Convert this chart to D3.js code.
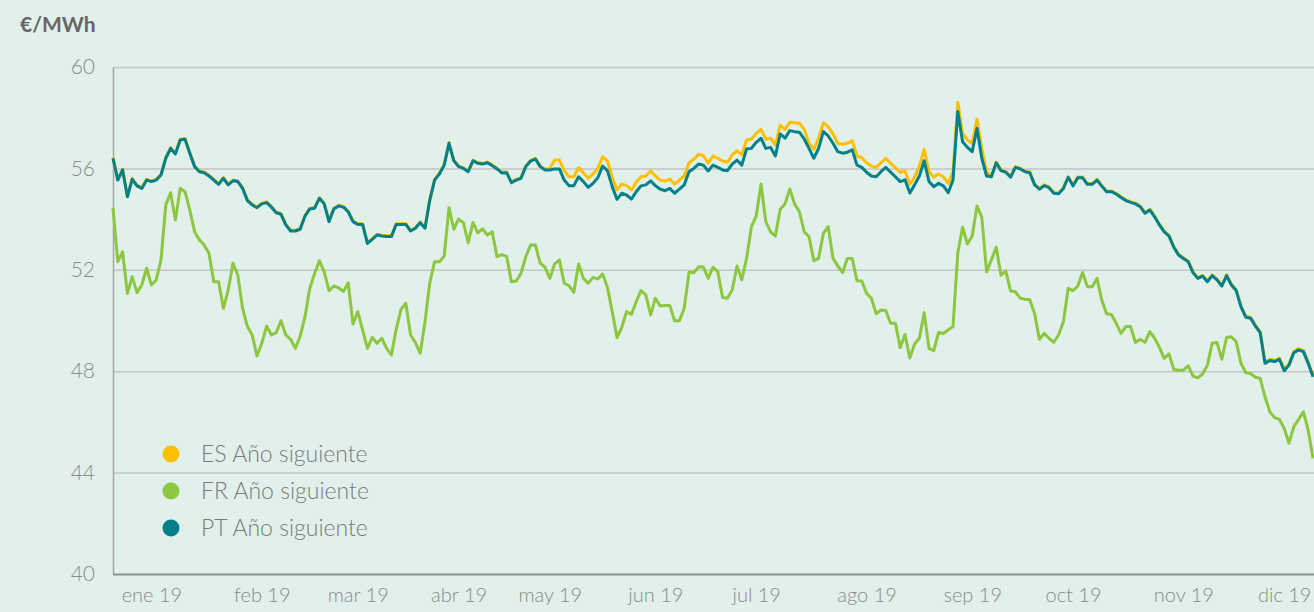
<!DOCTYPE html>
<html lang="es">
<head>
<meta charset="utf-8">
<title>Futuros de electricidad – Año siguiente</title>
<script src="https://cdn.jsdelivr.net/npm/d3@7/dist/d3.min.js"></script>
<style>
  html, body { margin: 0; padding: 0; background: #e1f0ea; }
  svg { display: block; font-family: Lato, "Open Sans", sans-serif; }
</style>
</head>
<body>
<svg id="chart" width="1314" height="612"></svg>
<script>
// Month labels and the trading-day index where each month begins
const monthLabels = ["ene 19", "feb 19", "mar 19", "abr 19", "may 19", "jun 19",
                     "jul 19", "ago 19", "sep 19", "oct 19", "nov 19", "dic 19"];
const monthStarts = [8, 31, 51, 72, 91, 113, 134, 157, 179, 200, 223, 244];

const yTicks = [40, 44, 48, 52, 56, 60];

// Daily settlement prices, €/MWh (one value per trading day)
const esValues = [
  56.43, 55.57, 55.97, 54.91, 55.60, 55.34, 55.24, 55.57, 55.51, 55.57,
  55.77, 56.43, 56.82, 56.60, 57.15, 57.18, 56.63, 56.10, 55.90, 55.86,
  55.73, 55.57, 55.40, 55.64, 55.38, 55.54, 55.51, 55.24, 54.76, 54.59,
  54.48, 54.63, 54.68, 54.50, 54.28, 54.22, 53.80, 53.56, 53.56, 53.63,
  54.15, 54.43, 54.46, 54.85, 54.63, 53.93, 54.43, 54.55, 54.50, 54.32,
  53.93, 53.82, 53.82, 53.07, 53.23, 53.40, 53.36, 53.34, 53.34, 53.82,
  53.82, 53.82, 53.56, 53.67, 53.89, 53.67, 54.78, 55.57, 55.81, 56.16,
  57.02, 56.33, 56.10, 56.03, 55.90, 56.33, 56.23, 56.20, 56.25, 56.14,
  56.01, 55.85, 55.86, 55.47, 55.57, 55.64, 56.10, 56.32, 56.40, 56.10,
  55.97, 56.00, 56.33, 56.33, 55.91, 55.67, 55.67, 56.03, 55.83, 55.61,
  55.78, 56.00, 56.46, 56.30, 55.65, 55.15, 55.38, 55.32, 55.15, 55.45,
  55.67, 55.70, 55.90, 55.70, 55.54, 55.50, 55.58, 55.38, 55.54, 55.70,
  56.22, 56.36, 56.56, 56.50, 56.21, 56.49, 56.40, 56.29, 56.24, 56.53,
  56.69, 56.53, 57.12, 57.15, 57.38, 57.54, 57.15, 57.19, 56.92, 57.71,
  57.54, 57.82, 57.80, 57.78, 57.54, 57.00, 56.75, 57.19, 57.80, 57.65,
  57.36, 56.99, 56.95, 56.99, 57.09, 56.49, 56.42, 56.22, 56.09, 56.04,
  56.22, 56.40, 56.20, 56.03, 55.84, 55.90, 55.38, 55.65, 56.09, 56.75,
  55.87, 55.65, 55.78, 55.67, 55.41, 55.87, 58.61, 57.38, 57.12, 56.99,
  57.94, 56.79, 55.87, 55.70, 56.25, 55.94, 55.88, 55.68, 56.07, 56.01,
  55.90, 55.86, 55.38, 55.21, 55.35, 55.27, 55.05, 55.03, 55.24, 55.68,
  55.34, 55.66, 55.66, 55.40, 55.40, 55.57, 55.33, 55.11, 55.11, 55.02,
  54.88, 54.76, 54.69, 54.63, 54.52, 54.26, 54.39, 54.12, 53.80, 53.53,
  53.36, 52.92, 52.61, 52.48, 52.35, 51.92, 51.69, 51.78, 51.56, 51.80,
  51.63, 51.39, 51.80, 51.43, 51.21, 50.57, 50.17, 50.13, 49.82, 49.56,
  48.36, 48.47, 48.43, 48.52, 48.07, 48.29, 48.78, 48.89, 48.82, 48.36, 47.83
];

const frValues = [
  54.43, 52.32, 52.71, 51.07, 51.73, 51.10, 51.40, 52.06, 51.40, 51.60,
  52.39, 54.56, 55.04, 53.96, 55.21, 55.08, 54.36, 53.50, 53.18, 52.98,
  52.65, 51.53, 51.53, 50.48, 51.20, 52.26, 51.79, 50.48, 49.76, 49.43,
  48.60, 49.10, 49.78, 49.43, 49.52, 49.99, 49.43, 49.26, 48.90, 49.38,
  50.15, 51.27, 51.85, 52.36, 51.92, 51.18, 51.36, 51.29, 51.14, 51.49,
  49.86, 50.35, 49.63, 48.90, 49.33, 49.10, 49.30, 48.90, 48.64, 49.65,
  50.44, 50.68, 49.43, 49.13, 48.71, 49.95, 51.49, 52.32, 52.32, 52.54,
  54.45, 53.60, 54.00, 53.86, 53.07, 53.86, 53.46, 53.61, 53.37, 53.50,
  52.52, 52.60, 52.53, 51.53, 51.56, 51.86, 52.52, 52.98, 52.98, 52.26,
  52.10, 51.66, 52.23, 52.39, 51.47, 51.37, 51.11, 52.23, 51.66, 51.47,
  51.70, 51.64, 51.83, 51.31, 50.35, 49.33, 49.73, 50.35, 50.24, 50.74,
  51.18, 51.01, 50.22, 50.88, 50.57, 50.59, 50.59, 49.99, 49.99, 50.48,
  51.90, 51.88, 52.12, 52.11, 51.66, 52.10, 51.92, 50.91, 50.88, 51.20,
  52.15, 51.60, 52.45, 53.70, 54.12, 55.38, 53.90, 53.50, 53.33, 54.39,
  54.60, 55.19, 54.60, 54.29, 53.50, 53.31, 52.36, 52.45, 53.44, 53.70,
  52.45, 52.15, 51.89, 52.45, 52.45, 51.57, 51.56, 51.07, 50.88, 50.26,
  50.41, 50.39, 49.89, 49.89, 48.93, 49.45, 48.52, 49.07, 49.30, 50.31,
  48.90, 48.81, 49.53, 49.49, 49.63, 49.76, 52.67, 53.68, 53.02, 53.33,
  54.52, 54.07, 51.92, 52.39, 52.89, 51.79, 51.95, 51.16, 51.13, 50.88,
  50.84, 50.82, 50.28, 49.26, 49.49, 49.30, 49.14, 49.43, 49.95, 51.27,
  51.18, 51.36, 51.89, 51.33, 51.33, 51.66, 50.80, 50.27, 50.24, 49.89,
  49.49, 49.76, 49.76, 49.13, 49.26, 49.14, 49.56, 49.30, 48.94, 48.51,
  48.68, 48.07, 48.04, 48.04, 48.21, 47.81, 47.74, 47.89, 48.24, 49.10,
  49.13, 48.47, 49.33, 49.36, 49.16, 48.31, 47.94, 47.91, 47.76, 47.72,
  46.99, 46.40, 46.17, 46.10, 45.75, 45.16, 45.81, 46.10, 46.40, 45.68, 44.56
];

const ptValues = [
  56.40, 55.54, 55.94, 54.88, 55.57, 55.31, 55.21, 55.54, 55.48, 55.54,
  55.74, 56.40, 56.79, 56.57, 57.12, 57.15, 56.60, 56.07, 55.87, 55.83,
  55.70, 55.54, 55.37, 55.61, 55.35, 55.51, 55.48, 55.21, 54.73, 54.56,
  54.45, 54.60, 54.65, 54.47, 54.25, 54.19, 53.77, 53.53, 53.53, 53.60,
  54.12, 54.40, 54.43, 54.82, 54.60, 53.90, 54.40, 54.52, 54.47, 54.29,
  53.90, 53.79, 53.79, 53.04, 53.20, 53.37, 53.33, 53.31, 53.31, 53.79,
  53.79, 53.79, 53.53, 53.64, 53.86, 53.64, 54.75, 55.54, 55.78, 56.13,
  56.99, 56.30, 56.07, 56.00, 55.87, 56.30, 56.20, 56.17, 56.22, 56.11,
  55.98, 55.82, 55.83, 55.44, 55.54, 55.61, 56.07, 56.29, 56.37, 56.07,
  55.94, 55.94, 55.98, 55.98, 55.54, 55.32, 55.32, 55.67, 55.48, 55.25,
  55.41, 55.63, 56.09, 55.91, 55.28, 54.78, 55.02, 54.95, 54.79, 55.08,
  55.31, 55.35, 55.51, 55.32, 55.18, 55.12, 55.21, 55.02, 55.18, 55.35,
  55.87, 56.00, 56.17, 56.13, 55.90, 56.13, 56.04, 55.94, 55.91, 56.17,
  56.33, 56.13, 56.77, 56.79, 57.03, 57.19, 56.79, 56.83, 56.49, 57.36,
  57.19, 57.49, 57.45, 57.43, 57.16, 56.79, 56.40, 56.79, 57.45, 57.28,
  56.99, 56.66, 56.60, 56.64, 56.73, 56.13, 56.04, 55.85, 55.70, 55.67,
  55.87, 56.04, 55.85, 55.67, 55.48, 55.55, 55.03, 55.35, 55.70, 56.30,
  55.48, 55.28, 55.41, 55.31, 55.04, 55.54, 58.24, 57.05, 56.83, 56.66,
  57.58, 56.40, 55.70, 55.67, 56.22, 55.91, 55.85, 55.65, 56.04, 55.98,
  55.87, 55.83, 55.35, 55.18, 55.32, 55.24, 55.02, 55.00, 55.21, 55.65,
  55.31, 55.63, 55.63, 55.37, 55.37, 55.54, 55.30, 55.08, 55.08, 54.99,
  54.85, 54.73, 54.66, 54.60, 54.49, 54.23, 54.36, 54.09, 53.77, 53.50,
  53.33, 52.89, 52.58, 52.45, 52.32, 51.89, 51.66, 51.75, 51.53, 51.77,
  51.60, 51.36, 51.77, 51.40, 51.18, 50.54, 50.13, 50.09, 49.78, 49.52,
  48.31, 48.42, 48.38, 48.47, 48.02, 48.24, 48.73, 48.84, 48.77, 48.31, 47.78
];

const seriesNames = ["ES Año siguiente", "FR Año siguiente", "PT Año siguiente"];
const seriesColors = ["#fcc000", "#8dc63f", "#00818a"];
const seriesData = [esValues, frValues, ptValues];

// ---- layout ----
const svg = d3.select("#chart");
const W = 1314, H = 612;
const m = { top: 67, right: 1, bottom: 38, left: 113 };

const x = d3.scaleLinear()
  .domain([0, ptValues.length - 1])
  .range([m.left, W - m.right]);

const y = d3.scaleLinear()
  .domain([40, 60])
  .range([H - m.bottom, m.top]);

// unit label
svg.append("text")
  .attr("x", 20).attr("y", 32)
  .attr("fill", "#666")
  .attr("font-size", 21)
  .attr("font-weight", 700)
  .text("€/MWh");

// horizontal gridlines
svg.append("g")
  .attr("transform", `translate(${m.left},0)`)
  .call(d3.axisLeft(y).tickValues(yTicks.filter(v => v > 40))
        .tickSize(-(W - m.left)).tickFormat(""))
  .call(g => g.select(".domain").remove())
  .call(g => g.selectAll("line").attr("stroke", "#c3c6c4").attr("stroke-width", 1.5));

// y axis labels
svg.append("g")
  .attr("transform", `translate(${m.left},0)`)
  .call(d3.axisLeft(y).tickValues(yTicks).tickSize(0).tickPadding(18))
  .call(g => g.select(".domain").attr("stroke", "#a3a6a4").attr("stroke-width", 1.5))
  .call(g => g.selectAll("text")
        .attr("fill", "#8a8a8a")
        .attr("font-size", 21)
        .attr("font-weight", 300)
        .attr("font-family", "Lato, sans-serif"));

// x axis
svg.append("g")
  .attr("transform", `translate(0,${y(40)})`)
  .call(d3.axisBottom(x).tickValues(monthStarts)
        .tickFormat((d, i) => monthLabels[i])
        .tickSize(0).tickSizeOuter(0).tickPadding(14))
  .call(g => g.select(".domain").attr("stroke", "#8a8e8c").attr("stroke-width", 2)
        .attr("d", `M${m.left},0.5H${W}`))
  .call(g => g.selectAll("text")
        .attr("fill", "#8a8a8a")
        .attr("font-size", 20)
        .attr("font-weight", 300)
        .attr("font-family", "Lato, sans-serif"));

// series lines (PT drawn last so it sits over ES)
const line = d3.line()
  .x((d, i) => x(i))
  .y(d => y(d));

seriesData.forEach((vals, k) => {
  svg.append("path")
    .datum(vals)
    .attr("fill", "none")
    .attr("stroke", seriesColors[k])
    .attr("stroke-width", 3)
    .attr("stroke-linejoin", "round")
    .attr("d", line);
});

// legend
const legend = svg.append("g").attr("transform", "translate(171,454)");
seriesNames.forEach((name, k) => {
  const row = legend.append("g").attr("transform", `translate(0,${k * 37})`);
  row.append("circle").attr("r", 8.5).attr("fill", seriesColors[k]);
  row.append("text")
    .attr("x", 30).attr("y", 8)
    .attr("fill", "#7a7a7a")
    .attr("font-size", 23)
    .attr("font-weight", 300)
    .attr("font-family", "Lato, sans-serif")
    .text(name);
});
</script>
</body>
</html>
